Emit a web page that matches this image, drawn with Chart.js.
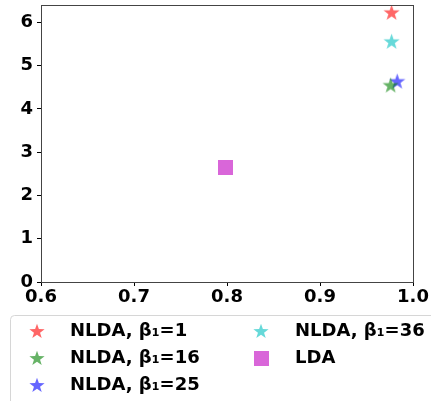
<!DOCTYPE html>
<html>
<head>
<meta charset="utf-8">
<script src="https://cdn.jsdelivr.net/npm/chart.js@4"></script>
<style>
  html, body { margin: 0; padding: 0; background: #fff; }
  #wrap { width: 431px; height: 401px; }
</style>
</head>
<body>
<div id="wrap"><canvas id="chart"></canvas></div>
<script>
const seriesLabels = ["NLDA, β₁=1", "NLDA, β₁=16", "NLDA, β₁=25", "NLDA, β₁=36", "LDA"];
const xValues = [0.977, 0.976, 0.983, 0.977, 0.798];
const yValues = [6.23, 4.55, 4.64, 5.56, 2.65];
const seriesColors = ["rgba(255,0,0,0.6)", "rgba(0,128,0,0.6)", "rgba(0,0,255,0.6)", "rgba(0,191,191,0.6)", "rgba(191,0,191,0.6)"];
const seriesMarkers = ["star", "star", "star", "star", "square"];
const xTicks = [0.6, 0.7, 0.8, 0.9, 1.0];
const yTicks = [0, 1, 2, 3, 4, 5, 6];

const font = "DejaVu Sans, sans-serif";

function makeMarker(kind, color, size) {
  const c = document.createElement("canvas");
  c.width = size; c.height = size;
  const ctx = c.getContext("2d");
  ctx.fillStyle = color;
  if (kind === "square") {
    ctx.fillRect(0, 0, size, size);
  } else {
    const cx = size / 2, cy = size / 2 + size * 0.04;
    const ro = size / 2, ri = ro * 0.4;
    ctx.beginPath();
    for (let i = 0; i < 10; i++) {
      const r = i % 2 === 0 ? ro : ri;
      const a = -Math.PI / 2 + i * Math.PI / 5;
      const px = cx + r * Math.cos(a), py = cy + r * Math.sin(a);
      if (i === 0) ctx.moveTo(px, py); else ctx.lineTo(px, py);
    }
    ctx.closePath();
    ctx.fill();
  }
  return c;
}

const plotMarkers = seriesLabels.map((_, i) => makeMarker(seriesMarkers[i], seriesColors[i], seriesMarkers[i] === "square" ? 15 : 17));
const legendMarkers = seriesLabels.map((_, i) => makeMarker(seriesMarkers[i], seriesColors[i], seriesMarkers[i] === "square" ? 15 : 16));

const frameAndLegend = {
  id: "frameAndLegend",
  afterDraw(chart) {
    const { ctx, chartArea: a } = chart;
    ctx.save();
    ctx.strokeStyle = "#444";
    ctx.lineWidth = 1;
    ctx.strokeRect(Math.round(a.left) + 0.5, Math.round(a.top) + 0.5, Math.round(a.right - a.left), Math.round(a.bottom - a.top));

    // legend box
    const bx = 10.5, by = 315.5, bw = 440, bh = 90, r = 4;
    ctx.beginPath();
    ctx.moveTo(bx + r, by);
    ctx.lineTo(bx + bw, by);
    ctx.lineTo(bx + bw, by + bh);
    ctx.lineTo(bx, by + bh);
    ctx.lineTo(bx, by + r);
    ctx.quadraticCurveTo(bx, by, bx + r, by);
    ctx.fillStyle = "rgba(255,255,255,0.8)";
    ctx.fill();
    ctx.strokeStyle = "#d6d6d6";
    ctx.stroke();

    ctx.font = "bold 18px " + font;
    ctx.fillStyle = "#000";
    ctx.textBaseline = "middle";
    ctx.textAlign = "left";
    seriesLabels.forEach((lab, i) => {
      const col = Math.floor(i / 3), row = i % 3;
      const mx = col === 0 ? 37 : 261;
      const tx = col === 0 ? 70 : 295;
      const y = 331 + row * 27;
      const m = legendMarkers[i];
      ctx.drawImage(m, Math.round(mx - m.width / 2), Math.round(y - m.height / 2));
      ctx.fillText(lab, tx, y);
    });
    ctx.restore();
  }
};

new Chart(document.getElementById("chart"), {
  type: "scatter",
  data: {
    datasets: seriesLabels.map((lab, i) => ({
      label: lab,
      data: [{ x: xValues[i], y: yValues[i] }],
      pointStyle: plotMarkers[i],
      backgroundColor: seriesColors[i],
      borderColor: seriesColors[i]
    }))
  },
  options: {
    responsive: true,
    maintainAspectRatio: false,
    animation: false,
    layout: { padding: { top: 5, right: 18, left: 0, bottom: 0 } },
    plugins: {
      legend: { display: false },
      tooltip: { enabled: false }
    },
    scales: {
      x: {
        type: "linear",
        min: 0.6,
        max: 1.0,
        afterBuildTicks: axis => { axis.ticks = xTicks.map(v => ({ value: v })); },
        afterFit: axis => { axis.height = 119; axis.paddingLeft = 0; axis.paddingRight = 0; },
        grid: { drawOnChartArea: false, drawTicks: true, tickLength: 4, color: "#000" },
        border: { color: "#444" },
        ticks: {
          color: "#000",
          padding: 1,
          maxRotation: 0,
          font: { size: 18, weight: "bold", family: font },
          callback: v => v.toFixed(1)
        }
      },
      y: {
        type: "linear",
        min: 0,
        max: 6.4,
        afterBuildTicks: axis => { axis.ticks = yTicks.map(v => ({ value: v })); },
        afterFit: axis => { axis.width = 41; axis.paddingTop = 0; axis.paddingBottom = 0; },
        grid: { drawOnChartArea: false, drawTicks: true, tickLength: 4, color: "#000" },
        border: { color: "#444" },
        ticks: {
          color: "#000",
          padding: 4,
          font: { size: 18, weight: "bold", family: font }
        }
      }
    }
  },
  plugins: [frameAndLegend]
});
</script>
</body>
</html>
